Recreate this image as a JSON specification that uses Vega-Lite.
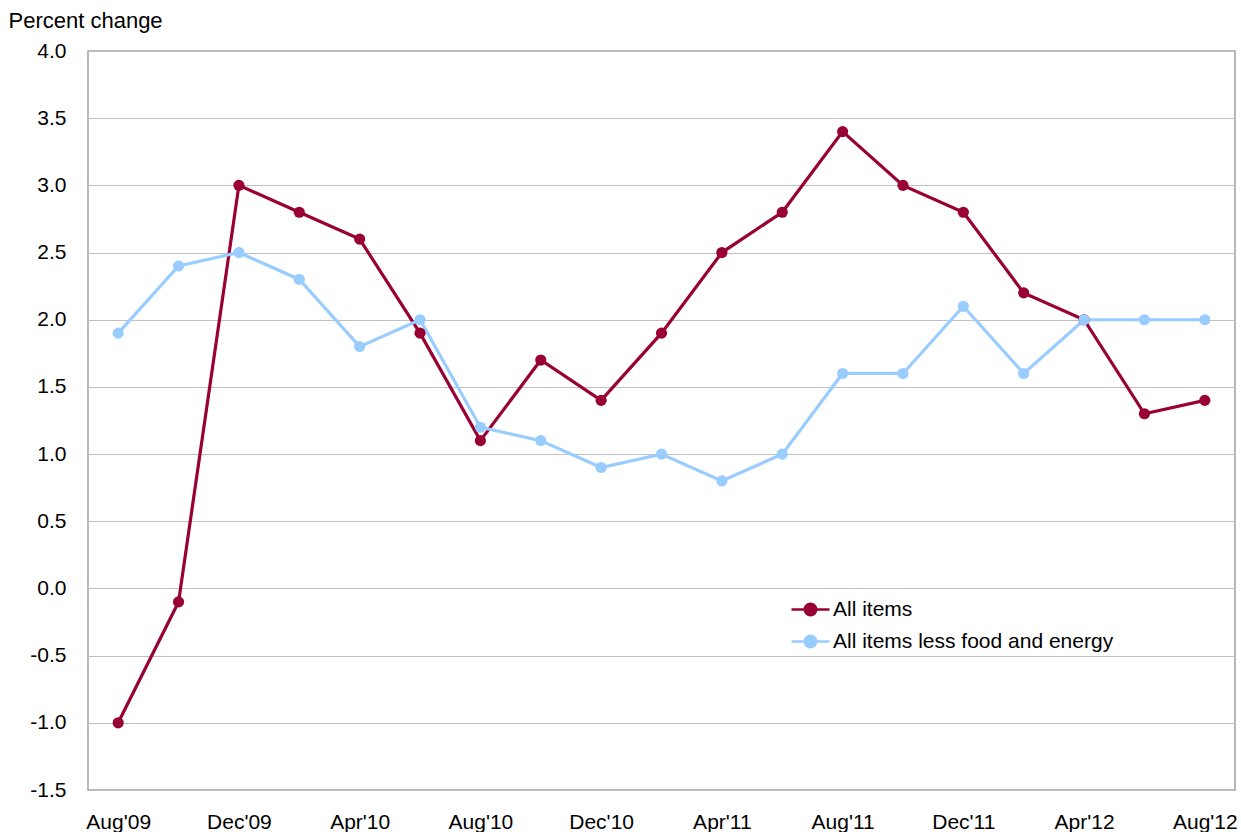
{
  "$schema": "https://vega.github.io/schema/vega-lite/v6.json",
  "width": 1147,
  "height": 739,
  "autosize": {"type": "none"},
  "padding": {"left": 88, "top": 51, "right": 6, "bottom": 42},
  "background": "white",
  "config": {
    "view": {"stroke": "#a0a0a0", "strokeWidth": 1.5},
    "font": "Liberation Sans",
    "axis": {"labelFont": "Liberation Sans", "labelFontSize": 21, "labelColor": "#000", "ticks": false, "domain": false, "titleFont": "Liberation Sans"},
    "legend": {"labelFont": "Liberation Sans", "labelFontSize": 21, "labelColor": "#000"}
  },
  "data": {
    "values": [
      {"month": "Aug'09", "series": "All items", "value": -1.0},
      {"month": "Oct'09", "series": "All items", "value": -0.1},
      {"month": "Dec'09", "series": "All items", "value": 3.0},
      {"month": "Feb'10", "series": "All items", "value": 2.8},
      {"month": "Apr'10", "series": "All items", "value": 2.6},
      {"month": "Jun'10", "series": "All items", "value": 1.9},
      {"month": "Aug'10", "series": "All items", "value": 1.1},
      {"month": "Oct'10", "series": "All items", "value": 1.7},
      {"month": "Dec'10", "series": "All items", "value": 1.4},
      {"month": "Feb'11", "series": "All items", "value": 1.9},
      {"month": "Apr'11", "series": "All items", "value": 2.5},
      {"month": "Jun'11", "series": "All items", "value": 2.8},
      {"month": "Aug'11", "series": "All items", "value": 3.4},
      {"month": "Oct'11", "series": "All items", "value": 3.0},
      {"month": "Dec'11", "series": "All items", "value": 2.8},
      {"month": "Feb'12", "series": "All items", "value": 2.2},
      {"month": "Apr'12", "series": "All items", "value": 2.0},
      {"month": "Jun'12", "series": "All items", "value": 1.3},
      {"month": "Aug'12", "series": "All items", "value": 1.4},
      {"month": "Aug'09", "series": "All items less food and energy", "value": 1.9},
      {"month": "Oct'09", "series": "All items less food and energy", "value": 2.4},
      {"month": "Dec'09", "series": "All items less food and energy", "value": 2.5},
      {"month": "Feb'10", "series": "All items less food and energy", "value": 2.3},
      {"month": "Apr'10", "series": "All items less food and energy", "value": 1.8},
      {"month": "Jun'10", "series": "All items less food and energy", "value": 2.0},
      {"month": "Aug'10", "series": "All items less food and energy", "value": 1.2},
      {"month": "Oct'10", "series": "All items less food and energy", "value": 1.1},
      {"month": "Dec'10", "series": "All items less food and energy", "value": 0.9},
      {"month": "Feb'11", "series": "All items less food and energy", "value": 1.0},
      {"month": "Apr'11", "series": "All items less food and energy", "value": 0.8},
      {"month": "Jun'11", "series": "All items less food and energy", "value": 1.0},
      {"month": "Aug'11", "series": "All items less food and energy", "value": 1.6},
      {"month": "Oct'11", "series": "All items less food and energy", "value": 1.6},
      {"month": "Dec'11", "series": "All items less food and energy", "value": 2.1},
      {"month": "Feb'12", "series": "All items less food and energy", "value": 1.6},
      {"month": "Apr'12", "series": "All items less food and energy", "value": 2.0},
      {"month": "Jun'12", "series": "All items less food and energy", "value": 2.0},
      {"month": "Aug'12", "series": "All items less food and energy", "value": 2.0}
    ]
  },
  "encoding": {
    "x": {
      "field": "month", "type": "ordinal", "sort": null,
      "scale": {"type": "point", "padding": 0.5},
      "axis": {"title": null, "labelAngle": 0, "labelPadding": 21, "grid": false,
        "values": ["Aug'09", "Dec'09", "Apr'10", "Aug'10", "Dec'10", "Apr'11", "Aug'11", "Dec'11", "Apr'12", "Aug'12"]}
    },
    "y": {
      "field": "value", "type": "quantitative",
      "scale": {"domain": [-1.5, 4.0], "nice": false, "zero": false},
      "axis": {"values": [-1.5, -1.0, -0.5, 0.0, 0.5, 1.0, 1.5, 2.0, 2.5, 3.0, 3.5, 4.0],
        "labelExpr": "replace(format(datum.value, '.1f'), '\u2212', '-')",
        "labelPadding": 22, "grid": true, "gridColor": "#c0c0c0", "gridWidth": 1.2,
        "title": "Percent change", "titleAngle": 0, "titleX": -80, "titleY": -31, "titleAlign": "left",
        "titleBaseline": "middle", "titleFontSize": 22, "titleFontWeight": "normal", "titleColor": "#000"}
    },
    "color": {
      "field": "series", "type": "nominal",
      "scale": {"domain": ["All items", "All items less food and energy"], "range": ["#990033", "#99ccff"]},
      "legend": {"title": null, "orient": "none", "legendX": 702, "legendY": 538,
        "symbolType": "M-1,0H1M0.3,0A0.3,0.3,0,1,1,-0.3,0A0.3,0.3,0,1,1,0.3,0Z",
        "symbolSize": 1444, "symbolStrokeWidth": 2.5, "rowPadding": -9, "labelOffset": 2, "labelLimit": 0}
    }
  },
  "layer": [
    {"mark": {"type": "line", "strokeWidth": 3.2}},
    {"mark": {"type": "point", "filled": true, "size": 125, "opacity": 1, "shape": "circle"}}
  ]
}
